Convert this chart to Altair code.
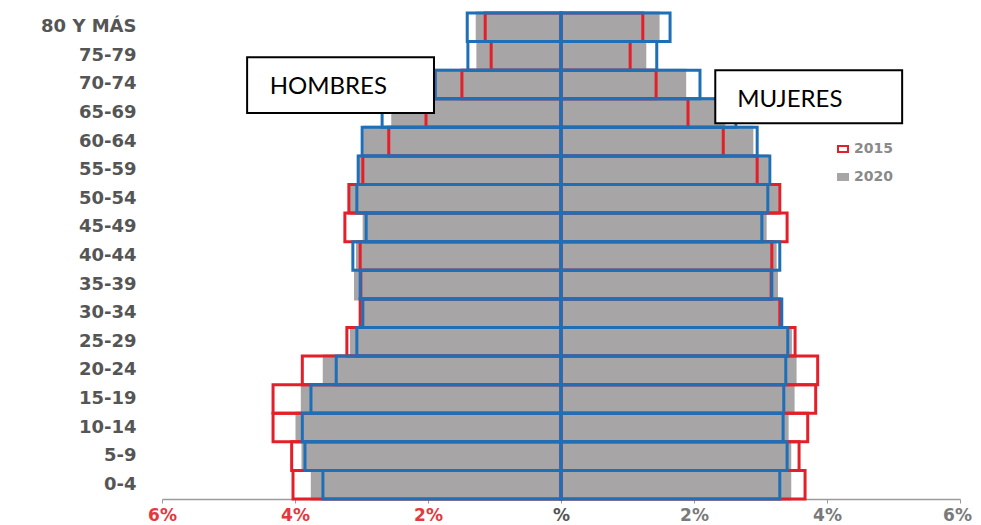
import altair as alt
import pandas as pd

# ---------------- data ----------------
ages = ["0-4", "5-9", "10-14", "15-19", "20-24", "25-29", "30-34", "35-39",
        "40-44", "45-49", "50-54", "55-59", "60-64", "65-69", "70-74",
        "75-79", "80 Y MÁS"]
years = ["2010", "2015", "2020"]
legend_years = ["2015", "2020"]  # the 2010 entry sits hidden under the MUJERES box

# percent of population, from 0-4 up to 80 Y MÁS
hombres_2010 = [3.58, 3.85, 3.89, 3.76, 3.38, 3.07, 2.98, 3.02, 3.13, 2.93,
                3.07, 3.05, 2.99, 2.69, 1.89, 1.40, 1.41]
hombres_2015 = [4.03, 4.05, 4.33, 4.33, 3.89, 3.22, 3.02, 3.01, 3.02, 3.25,
                3.19, 2.98, 2.59, 2.03, 1.49, 1.05, 1.14]
hombres_2020 = [3.74, 3.88, 3.97, 3.89, 3.56, 3.15, 3.00, 3.09, 3.06, 2.96,
                3.15, 3.02, 2.95, 2.53, 1.88, 1.25, 1.26]

mujeres_2010 = [3.29, 3.40, 3.34, 3.35, 3.38, 3.41, 3.32, 3.17, 3.29, 3.02,
                3.11, 3.14, 2.95, 2.63, 2.09, 1.44, 1.64]
mujeres_2015 = [3.67, 3.58, 3.71, 3.83, 3.86, 3.52, 3.29, 3.16, 3.17, 3.40,
                3.29, 2.95, 2.44, 1.91, 1.43, 1.04, 1.23]
mujeres_2020 = [3.44, 3.44, 3.40, 3.49, 3.52, 3.45, 3.28, 3.24, 3.22, 3.07,
                3.25, 3.10, 2.87, 2.45, 1.86, 1.26, 1.46]

tick_values = [-6, -4, -2, 0, 2, 4, 6]

BLUE = "#1f6fb6"
RED = "#e3202a"
GRAY = "#a7a5a6"

rows = []
# draw order: gray (2020) first, red (2015), blue (2010) on top
for year, h, m in [("2020", hombres_2020, mujeres_2020),
                   ("2015", hombres_2015, mujeres_2015),
                   ("2010", hombres_2010, mujeres_2010)]:
    for a, hv, mv in zip(ages, h, m):
        rows.append({"edad": a, "year": year, "sexo": "HOMBRES", "pct": -hv})
        rows.append({"edad": a, "year": year, "sexo": "MUJERES", "pct": mv})
df = pd.DataFrame(rows)

y_order = list(reversed(ages))

x_scale = alt.Scale(domain=[-6, 6], nice=False, zero=True)
y_scale = alt.Scale(domain=y_order, paddingInner=0, paddingOuter=0)

leg = alt.Legend(
    title=None, orient="none", legendX=674, legendY=129, values=legend_years,
    symbolType="M-1,-0.6H1V0.6H-1Z", symbolSize=100, symbolStrokeWidth=2,
    labelFont="DejaVu Sans", labelFontSize=14, labelFontWeight="bold",
    labelColor="#8a8a8a", rowPadding=14, labelOffset=4,
)

bars = alt.Chart(df).mark_bar(strokeWidth=3).encode(
    x=alt.X("pct:Q", stack=None, scale=x_scale,
            axis=alt.Axis(
                title=None, values=tick_values, grid=False,
                labelExpr="datum.value == 0 ? '%' : abs(datum.value) + '%'",
                labelColor=alt.expr(
                    "datum.value < 0 ? '#e5383e' : (datum.value == 0 ? '#555555' : '#7a7a7a')"),
                labelOffset=alt.expr("datum.value == 6 ? -3 : 0"),
                labelFont="DejaVu Sans", labelFontSize=17, labelFontWeight="bold",
                labelPadding=4, domainColor="#9a9a9a", domainWidth=1.5,
                tickColor="#9a9a9a", tickSize=4, labelFlush=False,
            )),
    y=alt.Y("edad:N", sort=y_order, scale=y_scale,
            axis=alt.Axis(title=None, domain=False, ticks=False, labelPadding=26,
                          labelFont="DejaVu Sans", labelFontSize=18,
                          labelFontWeight="bold", labelColor="#555555")),
    fill=alt.Fill("year:N", scale=alt.Scale(domain=years,
                                            range=["transparent", "transparent", GRAY]),
                  legend=leg),
    stroke=alt.Stroke("year:N", scale=alt.Scale(domain=years,
                                                range=[BLUE, RED, GRAY]),
                      legend=leg),
)

# annotation boxes
box_labels = ["HOMBRES", "MUJERES"]
box_x0 = [-4.72, 2.32]
box_x1 = [-1.91, 5.13]
box_ytop = ["75-79", "70-74"]
box_ytop_pos = [0.55, 0.0]
box_ybot = ["65-69", "65-69"]
box_ybot_pos = [0.5, 0.86]
text_x = [-4.38, 2.65]
text_row = ["70-74", "65-69"]
text_pos = [0.6, 0.05]

layers = [bars]
for i in range(2):
    bdf = pd.DataFrame({"x0": [box_x0[i]], "x1": [box_x1[i]],
                        "ytop": [box_ytop[i]], "ybot": [box_ybot[i]],
                        "tx": [text_x[i]], "trow": [text_row[i]],
                        "label": [box_labels[i]]})
    rect = alt.Chart(bdf).mark_rect(fill="white", stroke="black", strokeWidth=2).encode(
        x=alt.X("x0:Q", scale=x_scale),
        x2="x1",
        y=alt.Y("ytop:N", scale=y_scale, sort=y_order, bandPosition=box_ytop_pos[i]),
        y2=alt.Y2(field="ybot", bandPosition=box_ybot_pos[i]),
    )
    txt = alt.Chart(bdf).mark_text(align="left", baseline="middle", font="Lato",
                                   fontSize=24, color="black").encode(
        x=alt.X("tx:Q", scale=x_scale),
        y=alt.Y("trow:N", scale=y_scale, sort=y_order, bandPosition=text_pos[i]),
        text="label:N",
    )
    layers += [rect, txt]

chart = alt.layer(*layers).properties(
    width=798, height=486,
    autosize=alt.AutoSizeParams(type="none"),
    padding={"left": 154, "top": 5, "right": 13, "bottom": 24},
    background="white",
).configure_view(stroke=None)

chart.save("out.html", embed_options={"renderer": "svg", "actions": False})
